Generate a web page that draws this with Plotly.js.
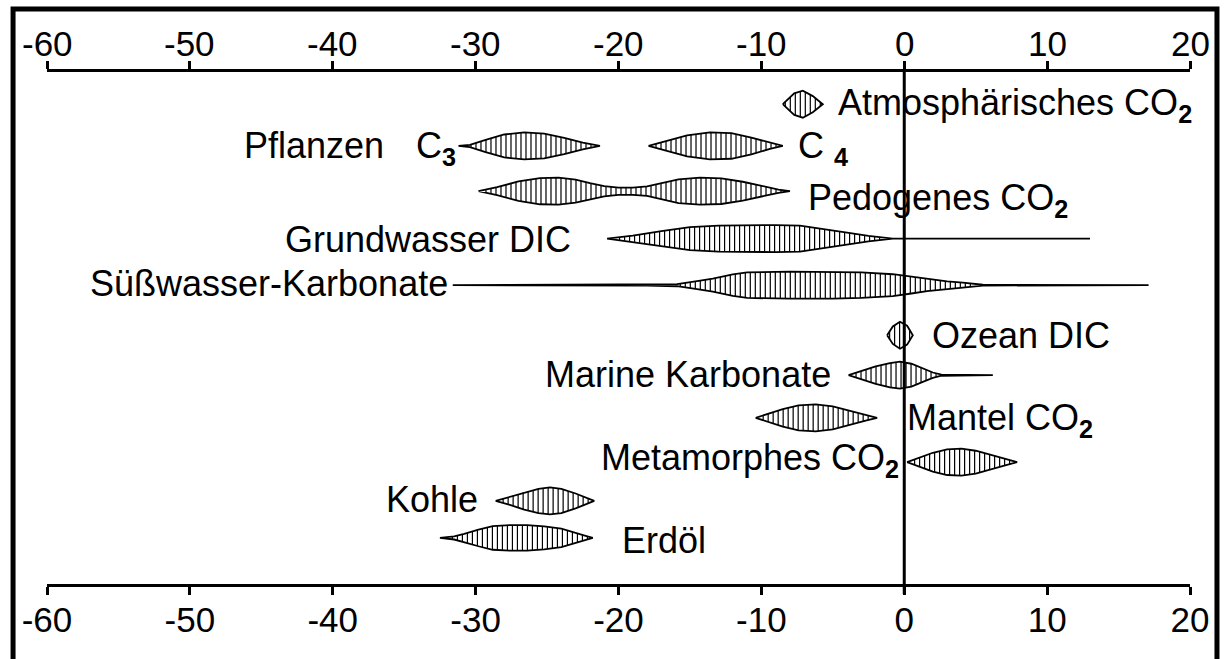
<!DOCTYPE html>
<html><head><meta charset="utf-8">
<script src="https://cdn.plot.ly/plotly-3.0.1.min.js"></script>
<style>html,body{margin:0;padding:0;background:#fff;} #chart{width:1224px;height:659px;}</style>
</head><body><div id="chart"></div>
<script>
// ---- data: delta13C (per mil) profiles, relative frequency (0..1) ----
const tickValues = [-60, -50, -40, -30, -20, -10, 0, 10, 20];
const tickLabels = ["-60", "-50", "-40", "-30", "-20", "-10", "0", "10", "20"];

const atmosX = [-8.5, -8.1, -7.7, -7.1, -6.4, -5.7];
const atmosW = [0, 0.4, 0.8, 1.0, 0.6, 0];

const c3X = [-31.2, -30.4, -29.3, -28.0, -26.6, -25.2, -23.8, -22.5, -21.3];
const c3W = [0, 0.08, 0.45, 0.85, 1.0, 0.92, 0.6, 0.25, 0];

const c4X = [-17.9, -16.6, -15.2, -13.6, -12.1, -10.7, -9.4, -8.5];
const c4W = [0, 0.35, 0.78, 1.0, 0.95, 0.62, 0.22, 0];

const pedoX = [-29.8, -28.5, -27.0, -25.5, -24.2, -23.0, -22.0, -21.0, -20.0, -19.0, -18.0, -17.0, -15.8, -14.3, -12.8, -11.3, -9.8, -8.8, -8.0];
const pedoW = [0, 0.3, 0.72, 0.97, 1.0, 0.85, 0.6, 0.38, 0.27, 0.27, 0.35, 0.6, 0.88, 1.0, 0.95, 0.7, 0.35, 0.12, 0];

const grundX = [-20.8, -19.0, -17.0, -15.0, -13.0, -11.0, -9.0, -7.3, -6.0, -4.0, -2.5, -0.8, 13.0];
const grundW = [0, 0.22, 0.55, 0.85, 0.97, 1.0, 1.0, 0.97, 0.78, 0.45, 0.2, 0, 0];

const suessX = [-31.6, -18.0, -15.9, -14.5, -13.4, -12.0, -11.0, -8.0, -5.0, -3.0, -0.8, 0.5, 1.6, 3.0, 4.1, 5.5, 17.1];
const suessW = [0, 0.04, 0.08, 0.3, 0.48, 0.8, 0.95, 1.0, 1.0, 0.95, 0.81, 0.62, 0.44, 0.28, 0.18, 0.03, 0];

const ozeanX = [-1.2, -0.8, -0.3, 0.2, 0.6];
const ozeanW = [0, 0.65, 1.0, 0.7, 0];

const marineX = [-3.9, -3.0, -2.0, -1.0, -0.3, 0.5, 1.3, 2.0, 2.6, 6.2];
const marineW = [0, 0.3, 0.65, 0.9, 1.0, 0.85, 0.5, 0.2, 0.04, 0];

const mantelX = [-10.4, -9.5, -8.5, -7.4, -6.2, -5.0, -3.8, -2.7, -1.9];
const mantelW = [0, 0.3, 0.65, 0.93, 1.0, 0.85, 0.5, 0.2, 0];

const metaX = [0.2, 1.0, 2.0, 3.0, 4.0, 5.0, 6.0, 7.0, 7.9];
const metaW = [0, 0.3, 0.7, 0.95, 1.0, 0.85, 0.55, 0.25, 0];

const kohleX = [-28.6, -27.6, -26.6, -25.6, -24.8, -24.0, -23.0, -22.3, -21.7];
const kohleW = [0, 0.3, 0.65, 0.9, 1.0, 0.9, 0.55, 0.25, 0];

const erdoelX = [-32.5, -31.5, -30.8, -29.8, -28.8, -27.6, -26.4, -25.2, -24.0, -23.0, -22.3, -21.8];
const erdoelW = [0, 0.12, 0.3, 0.62, 0.88, 0.95, 0.95, 0.85, 0.68, 0.4, 0.15, 0];

// row arrangement (vertical order of the reservoirs)
const rowPos = {atmos: 0.74, plants: 1.70, pedo: 2.74, grund: 3.83, suess: 4.90, ozean: 6.05,
                marine: 6.97, mantel: 7.95, meta: 8.97, kohle: 9.86, erdoel: 10.71};

const profiles = [
  [atmosX, atmosW, rowPos.atmos],
  [c3X, c3W, rowPos.plants],
  [c4X, c4W, rowPos.plants],
  [pedoX, pedoW, rowPos.pedo],
  [grundX, grundW, rowPos.grund],
  [suessX, suessW, rowPos.suess],
  [ozeanX, ozeanW, rowPos.ozean],
  [marineX, marineW, rowPos.marine],
  [mantelX, mantelW, rowPos.mantel],
  [metaX, metaW, rowPos.meta],
  [kohleX, kohleW, rowPos.kohle],
  [erdoelX, erdoelW, rowPos.erdoel]
];

// labels
const labels = [
  {text: "Atmosphärisches CO<sub><b>2</b></sub>", x: -4.8, y: 0.76, anchor: "left"},
  {text: "Pflanzen", x: -36.3, y: 1.70, anchor: "right"},
  {text: "C<sub><b>3</b></sub>", x: -31.2, y: 1.74, anchor: "right"},
  {text: "C <sub><b>4</b></sub>", x: -7.6, y: 1.74, anchor: "left"},
  {text: "Pedogenes CO<sub><b>2</b></sub>", x: -6.9, y: 2.94, anchor: "left"},
  {text: "Grundwasser DIC", x: -23.2, y: 3.86, anchor: "right"},
  {text: "Süßwasser-Karbonate", x: -31.8, y: 4.86, anchor: "right"},
  {text: "Ozean DIC", x: 1.8, y: 6.05, anchor: "left"},
  {text: "Marine Karbonate", x: -5.0, y: 6.95, anchor: "right"},
  {text: "Mantel CO<sub><b>2</b></sub>", x: 0.05, y: 7.99, anchor: "left"},
  {text: "Metamorphes CO<sub><b>2</b></sub>", x: -0.25, y: 8.92, anchor: "right"},
  {text: "Kohle", x: -29.7, y: 9.82, anchor: "right"},
  {text: "Erdöl", x: -19.9, y: 10.76, anchor: "left"}
];

// ---- drawing ----
const HALF = 0.31;      // half thickness (y units) of a profile at relative frequency 1
const HATCH = 0.35;     // hatch spacing (per mil)

function interp(xs, ws, t) {
  for (let i = 0; i < xs.length - 1; i++) {
    if (t >= xs[i] && t <= xs[i + 1]) {
      const f = (t - xs[i]) / (xs[i + 1] - xs[i]);
      return ws[i] + f * (ws[i + 1] - ws[i]);
    }
  }
  return 0;
}

const traces = [];
profiles.forEach(([xs, ws, row]) => {
  const px = xs.concat(xs.slice().reverse());
  const py = xs.map((_, i) => row - ws[i] * HALF)
    .concat(xs.map((_, i) => row + ws[i] * HALF).reverse());
  traces.push({x: px, y: py, type: "scatter", mode: "lines", fill: "toself",
    fillcolor: "#ffffff", line: {color: "#000", width: 1.8}, hoverinfo: "skip", showlegend: false});
  const hx = [], hy = [];
  for (let t = xs[0] + HATCH / 2; t < xs[xs.length - 1]; t += HATCH) {
    const w = interp(xs, ws, t);
    if (w * HALF * 43.5 > 1.2) {
      hx.push(t, t, null);
      hy.push(row - w * HALF, row + w * HALF, null);
    }
  }
  traces.push({x: hx, y: hy, type: "scatter", mode: "lines",
    line: {color: "#000", width: 1.2}, hoverinfo: "skip", showlegend: false, connectgaps: false});
});
// invisible trace so the top axis is drawn
traces.push({x: [0], y: [0], xaxis: "x2", yaxis: "y", mode: "markers",
  marker: {opacity: 0}, hoverinfo: "skip", showlegend: false});

const FONT = "Liberation Sans, Arial, sans-serif";
const axisCommon = {
  range: [-60, 20], tickmode: "array", tickvals: tickValues, ticktext: tickLabels,
  showline: true, linecolor: "#000", linewidth: 3, ticks: "outside", ticklen: 8,
  tickwidth: 3, tickcolor: "#000", showgrid: false, zeroline: false,
  tickfont: {family: FONT, size: 35, color: "#000"}, fixedrange: true
};

// top-axis tick labels placed as annotations (sit close to the ticks)
const topTickAnnotations = tickValues.map((v, i) => ({
  text: tickLabels[i], x: v, y: 1.0566, xref: "x", yref: "paper",
  xanchor: "center", yanchor: "middle", showarrow: false,
  font: {family: FONT, size: 35, color: "#000"}
}));

const layout = {
  width: 1224, height: 659,
  margin: {l: 47, r: 34, t: 72, b: 75},
  paper_bgcolor: "#fff", plot_bgcolor: "#fff",
  showlegend: false,
  xaxis: Object.assign({}, axisCommon, {side: "bottom", ticklabelstandoff: -5}),
  xaxis2: Object.assign({}, axisCommon, {side: "top", overlaying: "x", matches: "x", showticklabels: false}),
  yaxis: {range: [11.77, 0], visible: false, fixedrange: true},
  annotations: labels.map(l => ({text: l.text, x: l.x, y: l.y, xref: "x", yref: "y",
    xanchor: l.anchor, yanchor: "middle", showarrow: false,
    font: {family: FONT, size: 36, color: "#000"}})).concat(topTickAnnotations),
  shapes: [
    {type: "line", xref: "x", yref: "paper", x0: 0, x1: 0, y0: 1.0, y1: -0.02,
     line: {color: "#000", width: 3}},
    {type: "rect", xref: "paper", yref: "paper", x0: -0.0297, x1: 1.0236, y0: -0.3, y1: 1.123,
     line: {color: "#000", width: 5}, fillcolor: "rgba(0,0,0,0)"}
  ]
};

Plotly.newPlot("chart", traces, layout, {staticPlot: true, displayModeBar: false});
</script>
</body></html>
